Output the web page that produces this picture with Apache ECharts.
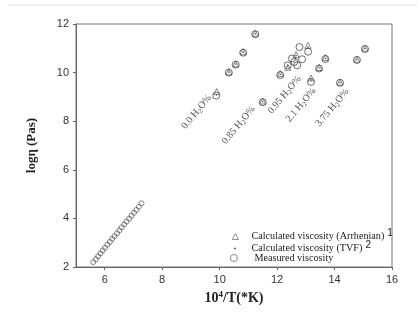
<!DOCTYPE html>
<html><head><meta charset="utf-8">
<script src="https://cdn.jsdelivr.net/npm/echarts@6/dist/echarts.min.js"></script>
<style>html,body{margin:0;padding:0;background:#fff}#c{width:417px;height:322px}</style>
</head><body><div id="c"></div>
<script>
// Measured viscosity, high-temperature (small circles)
var measuredLow = [[5.60,2.20],[5.69,2.32],[5.77,2.44],[5.85,2.56],[5.93,2.68],[6.01,2.79],[6.09,2.92],[6.18,3.03],[6.26,3.16],[6.34,3.27],[6.43,3.39],[6.51,3.51],[6.59,3.63],[6.68,3.75],[6.76,3.87],[6.85,3.99],[6.93,4.11],[7.02,4.23],[7.10,4.35],[7.19,4.48],[7.28,4.62]];
// Measured viscosity, low-temperature (large circles)
var measuredHigh = [[9.88,9.05],[10.32,10.00],[10.56,10.33],[10.82,10.82],[11.24,11.58],
  [11.50,8.78],
  [12.11,9.90],[12.37,10.30],[12.52,10.58],[12.60,10.44],[12.70,10.30],[12.78,11.05],[12.87,10.55],[13.08,10.86],
  [13.18,9.62],[13.46,10.17],[13.68,10.56],
  [14.19,9.58],[14.78,10.52],[15.06,10.97]];
// Calculated viscosity (Arrhenian)
var arrhenian = [[9.90,9.22],[10.32,10.03],[10.56,10.36],[10.82,10.86],[11.24,11.62],
  [11.50,8.83],
  [12.11,9.96],[12.37,10.22],[12.66,10.74],[13.07,11.12],
  [13.18,9.78],[13.46,10.21],[13.68,10.62],
  [14.19,9.61],[14.78,10.55],[15.06,11.01]];
// Calculated viscosity (TVF)
var tvf = [[9.89,9.08],[10.32,10.02],[10.56,10.35],[10.82,10.84],[11.24,11.60],
  [11.50,8.80],
  [12.11,9.93],[12.37,10.26],[12.66,10.70],[13.07,11.05],
  [13.18,9.70],[13.46,10.19],[13.68,10.58],
  [14.19,9.59],[14.78,10.53],[15.06,10.99]];
// Group labels (wt% H2O)
var groupNames = ['0.0','0.85','0.95','2.1','3.75'];
var groupLabelPos = [[9.20,8.38],[10.66,7.84],[12.26,9.08],[12.83,8.67],[13.92,8.56]];
var xTicks = [6,8,10,12,14,16];
var yTicks = [2,4,6,8,10,12];

var serif = '"Liberation Serif","DejaVu Serif",serif';
var sans = '"Liberation Sans",Arial,sans-serif';
var chart = echarts.init(document.getElementById('c'), null, {renderer:'canvas'});
var labelData = groupLabelPos.map(function(p,i){return {value:p, name:groupNames[i]};});
function rich(pad){
  return {n:{fontFamily:serif,fontSize:10.2,color:'#222',padding:[0,0,0,pad]},
          s:{fontFamily:sans,fontSize:10,color:'#222',padding:[0,0,7,3]}};
}
chart.setOption({
  animation:false,
  backgroundColor:'#fff',
  grid:{left:76,right:25,top:24,bottom:55,show:true,borderColor:'#777',borderWidth:1},
  xAxis:{type:'value',min:5,max:16,
    name:'10{s|4}/T(*K)',nameLocation:'middle',nameGap:19,
    nameTextStyle:{fontFamily:serif,fontWeight:'bold',fontSize:14,color:'#222',
      rich:{s:{fontFamily:serif,fontWeight:'bold',fontSize:9,color:'#222',padding:[0,0,8,0]}}},
    axisLine:{lineStyle:{color:'#666'}},
    axisTick:{length:3,customValues:xTicks,lineStyle:{color:'#666'}},
    axisLabel:{fontFamily:sans,fontSize:11,color:'#333',margin:7,customValues:xTicks},
    splitLine:{show:false}},
  yAxis:{type:'value',min:2,max:12,interval:2,
    name:'logη (Pas)',nameLocation:'middle',nameGap:38,nameRotate:90,
    nameTextStyle:{fontFamily:serif,fontWeight:'bold',fontSize:13,color:'#222'},
    axisLine:{show:true,lineStyle:{color:'#666'}},axisTick:{show:true,length:3,lineStyle:{color:'#666'}},
    axisLabel:{fontFamily:sans,fontSize:11,color:'#333',margin:7,
      formatter:function(v){return yTicks.indexOf(v)>=0? String(v):'';}},
    splitLine:{show:false}},
  legend:[
    {data:[{name:'Calculated viscosity (Arrhenian)',itemStyle:{borderWidth:0.8,borderColor:'#555'}}],
      left:232,top:228,itemWidth:6,itemHeight:6,padding:0,
      formatter:function(n){return '{n|'+n+'}{s|1}';}, textStyle:{rich:rich(8)}},
    {data:['Calculated viscosity (TVF)'],left:234,top:240,itemWidth:2,itemHeight:2,padding:0,
      formatter:function(n){return '{n|'+n+'}{s|2}';}, textStyle:{rich:rich(10.5)}},
    {data:[{name:'Measured viscosity',itemStyle:{borderWidth:0.8,borderColor:'#444'}}],
      left:230,top:253,itemWidth:7,itemHeight:7,padding:0,
      formatter:function(n){return '{n|'+n+'}';}, textStyle:{rich:rich(12)}}
  ],
  series:[
    {name:'Measured viscosity',type:'scatter',data:measuredHigh,symbol:'circle',symbolSize:7,
      itemStyle:{color:'rgba(255,255,255,0)',borderColor:'#333',borderWidth:0.9},z:3},
    {name:'Measured viscosity',type:'scatter',data:measuredLow,symbol:'circle',symbolSize:5,
      itemStyle:{color:'rgba(255,255,255,0)',borderColor:'#444',borderWidth:0.8},z:3},
    {name:'Calculated viscosity (Arrhenian)',type:'scatter',data:arrhenian,symbol:'triangle',symbolSize:6,
      itemStyle:{color:'rgba(255,255,255,0)',borderColor:'#444',borderWidth:0.8},z:4},
    {name:'Calculated viscosity (TVF)',type:'scatter',data:tvf,symbol:'circle',symbolSize:1.6,
      itemStyle:{color:'#333'},z:5},
    {name:'labels',type:'scatter',data:labelData,symbolSize:0,silent:true,z:6,
      label:{show:true,position:'inside',rotate:50,
        formatter:function(p){return '{n|'+p.name+' H}{s|2}{n|O%}';},
        rich:{n:{fontFamily:serif,fontSize:10,color:'#222'},s:{fontFamily:serif,fontSize:7,color:'#222',padding:[5,0,0,0]}}}}
  ],
  graphic:[{type:'line',shape:{x1:8,y1:5,x2:417,y2:5},style:{stroke:'#ddd',lineWidth:1},silent:true}]
});
</script></body></html>
